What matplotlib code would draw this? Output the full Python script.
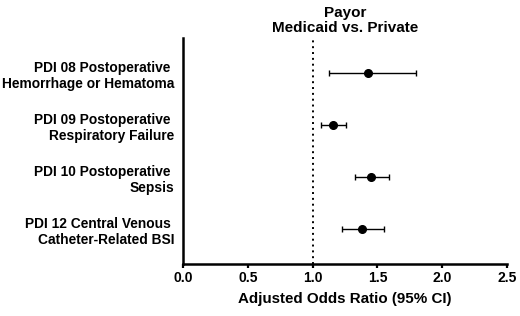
import matplotlib
matplotlib.use("Agg")
import matplotlib.pyplot as plt

labels = ["PDI 08 Postoperative \nHemorrhage or Hematoma",
          "PDI 09 Postoperative \nRespiratory Failure",
          "PDI 10 Postoperative \nSepsis",
          "PDI 12 Central Venous \nCatheter-Related BSI"]
odds = [1.425, 1.16, 1.448, 1.379]
lower = [1.127, 1.067, 1.325, 1.227]
upper = [1.80, 1.26, 1.59, 1.55]
xticks = [0.0, 0.5, 1.0, 1.5, 2.0, 2.5]

plt.rcParams['font.family'] = ['Liberation Sans', 'DejaVu Sans']
plt.rcParams['font.weight'] = 'bold'

fig = plt.figure(figsize=(5.2, 3.16), dpi=100)
ax = fig.add_axes([183/520, 1-264.3/316, (507-183)/520, (264.3-38)/316])

ypos = list(range(len(labels)))
xerr = [[o - l for o, l in zip(odds, lower)], [u - o for o, u in zip(odds, upper)]]
ax.errorbar(odds, ypos, xerr=xerr, fmt='o', color='black', ms=5.5,
            elinewidth=1.0, capsize=2.2, capthick=1.0)
ax.axvline(1.0, color='black', linestyle=(0, (1, 2)), linewidth=1.4)

ax.set_xlim(0, 2.5)
ax.set_ylim(len(labels) - 1 + 0.67, -0.68)
ax.set_xticks(xticks)
ax.set_xticklabels([f"{t:.1f}" for t in xticks], fontsize=10, fontweight='bold')
ax.set_yticks(ypos)
ax.set_yticklabels(labels, fontsize=9.9, fontweight='bold', ha='right')
ax.tick_params(axis='y', length=0, pad=6)
ax.tick_params(axis='x', length=3.2, width=1.6, pad=1.5)
for s in ['top', 'right']:
    ax.spines[s].set_visible(False)
for s in ['left', 'bottom']:
    ax.spines[s].set_linewidth(1.8)
ax.set_xlabel("Adjusted Odds Ratio (95% CI)", fontsize=10.9, fontweight='bold', labelpad=5)
ax.set_title("Payor\nMedicaid vs. Private", fontsize=11, fontweight='bold', pad=4, linespacing=1.15)

fig.savefig("out.png", dpi=100)
